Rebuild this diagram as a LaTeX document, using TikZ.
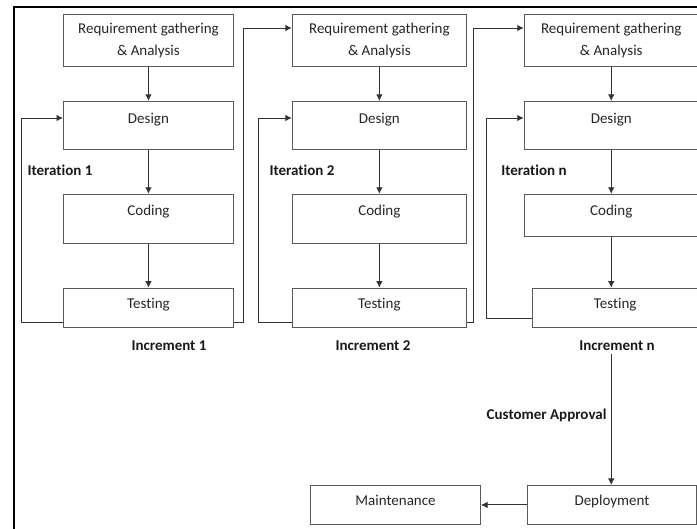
\documentclass[tikz,border=0pt]{standalone}
\usepackage{fontspec}
\setmainfont{Carlito}[Ligatures=NoCommon]
\usepackage{tikz}
\usetikzlibrary{positioning,arrows.meta}

\begin{document}
\begin{tikzpicture}[x=1pt,y=-1pt,
% styles
box/.style={rectangle, draw=black!65, line width=0.9pt, inner sep=0pt, text=black!85, font=\fontsize{15}{22}\selectfont},
reqnode/.style={box, align=center, minimum height=52pt},
designnode/.style={box, text height=22pt, text depth=26pt},
codenode/.style={box, text height=21pt, text depth=28pt},
testnode/.style={box, text height=20pt, text depth=19pt},
tag/.style={font=\bfseries\fontsize{15}{18}\selectfont, text=black!90},
flow/.style={draw=black!80, line width=0.9pt, -{Latex[length=6.5pt,width=6.5pt]}},
]
\useasboundingbox (0,0) rectangle (697,529);

%Nodes: increment 1
\node[reqnode, minimum width=170pt, anchor=north west] (req1) at (63,14) {Requirement gathering\\ \& Analysis};
\node[designnode, minimum width=170pt] (des1) [below=34pt of req1] {Design};
\node[codenode, minimum width=170pt]   (cod1) [below=44pt of des1] {Coding};
\node[testnode, minimum width=170pt]   (tst1) [below=44pt of cod1] {Testing};

%Nodes: increment 2
\node[reqnode, minimum width=174pt]    (req2) [right=58pt of req1] {Requirement gathering\\ \& Analysis};
\node[designnode, minimum width=174pt] (des2) [below=34pt of req2] {Design};
\node[codenode, minimum width=174pt]   (cod2) [below=44pt of des2] {Coding};
\node[testnode, minimum width=174pt]   (tst2) [below=44pt of cod2] {Testing};

%Nodes: increment n
\node[reqnode, minimum width=174pt]    (req3) [right=57pt of req2] {Requirement gathering\\ \& Analysis};
\node[designnode, minimum width=174pt] (des3) [below=34pt of req3] {Design};
\node[codenode, minimum width=174pt, text depth=21pt] (cod3) [below=44pt of des3] {Coding};
\node[testnode, minimum width=166pt]   (tst3) [below=51pt of cod3, xshift=4pt] {Testing};

%Release
\node[testnode, minimum width=169pt, anchor=north west] (dep) at (527,485) {Deployment};
\node[testnode, minimum width=170pt] (mnt) [left=46pt of dep] {Maintenance};

%Labels
\node[tag] (it1) at (60,170) {Iteration 1};
\node[tag] (it2) at (302,170) {Iteration 2};
\node[tag] (itn) at (534,170) {Iteration n};
\node[tag] (inc1) at (169,346) {Increment 1};
\node[tag] (inc2) at (373,346) {Increment 2};
\node[tag] (incn) at (617,346) {Increment n};

%Lines
\draw[flow] (req1) -- (des1);
\draw[flow] (des1) -- (cod1);
\draw[flow] (cod1) -- (tst1);
\draw[flow] (req2) -- (des2);
\draw[flow] (des2) -- (cod2);
\draw[flow] (cod2) -- (tst2);
\draw[flow] (req3) -- (des3);
\draw[flow] (des3) -- (cod3);
\draw[flow] (cod3.south) -- (cod3.south |- tst3.north);

% iteration loops back to design
\coordinate (back1) at (21,118);
\coordinate (back2) at (258,118);
\coordinate (backn) at (486,118);
\draw[flow] ([yshift=5pt]tst1.south west) -| (back1) -- (back1 -| des1.west);
\draw[flow] ([yshift=5pt]tst2.south west) -| (back2) -- (back2 -| des2.west);
\draw[flow] ([yshift=9pt]tst3.south west) -| (backn) -- (backn -| des3.west);

% next increment
\coordinate (up1) at (243,28);
\coordinate (up2) at (473,28);
\draw[flow] ([yshift=5pt]tst1.south east) -| (up1) -- (up1 -| req2.west);
\draw[flow] ([yshift=5pt]tst2.south east) -| (up2) -- (up2 -| req3.west);

% release
\draw[flow] (incn.south -| cod3.south) -- (cod3.south |- dep.north)
  node[tag, pos=0.47, left=1pt] (ok) {Customer Approval};
\draw[flow] (dep) -- (mnt);

% frame
\draw[line width=2.4pt] (14,529) -- (14,7) -- (697,7);
\end{tikzpicture}
\end{document}
